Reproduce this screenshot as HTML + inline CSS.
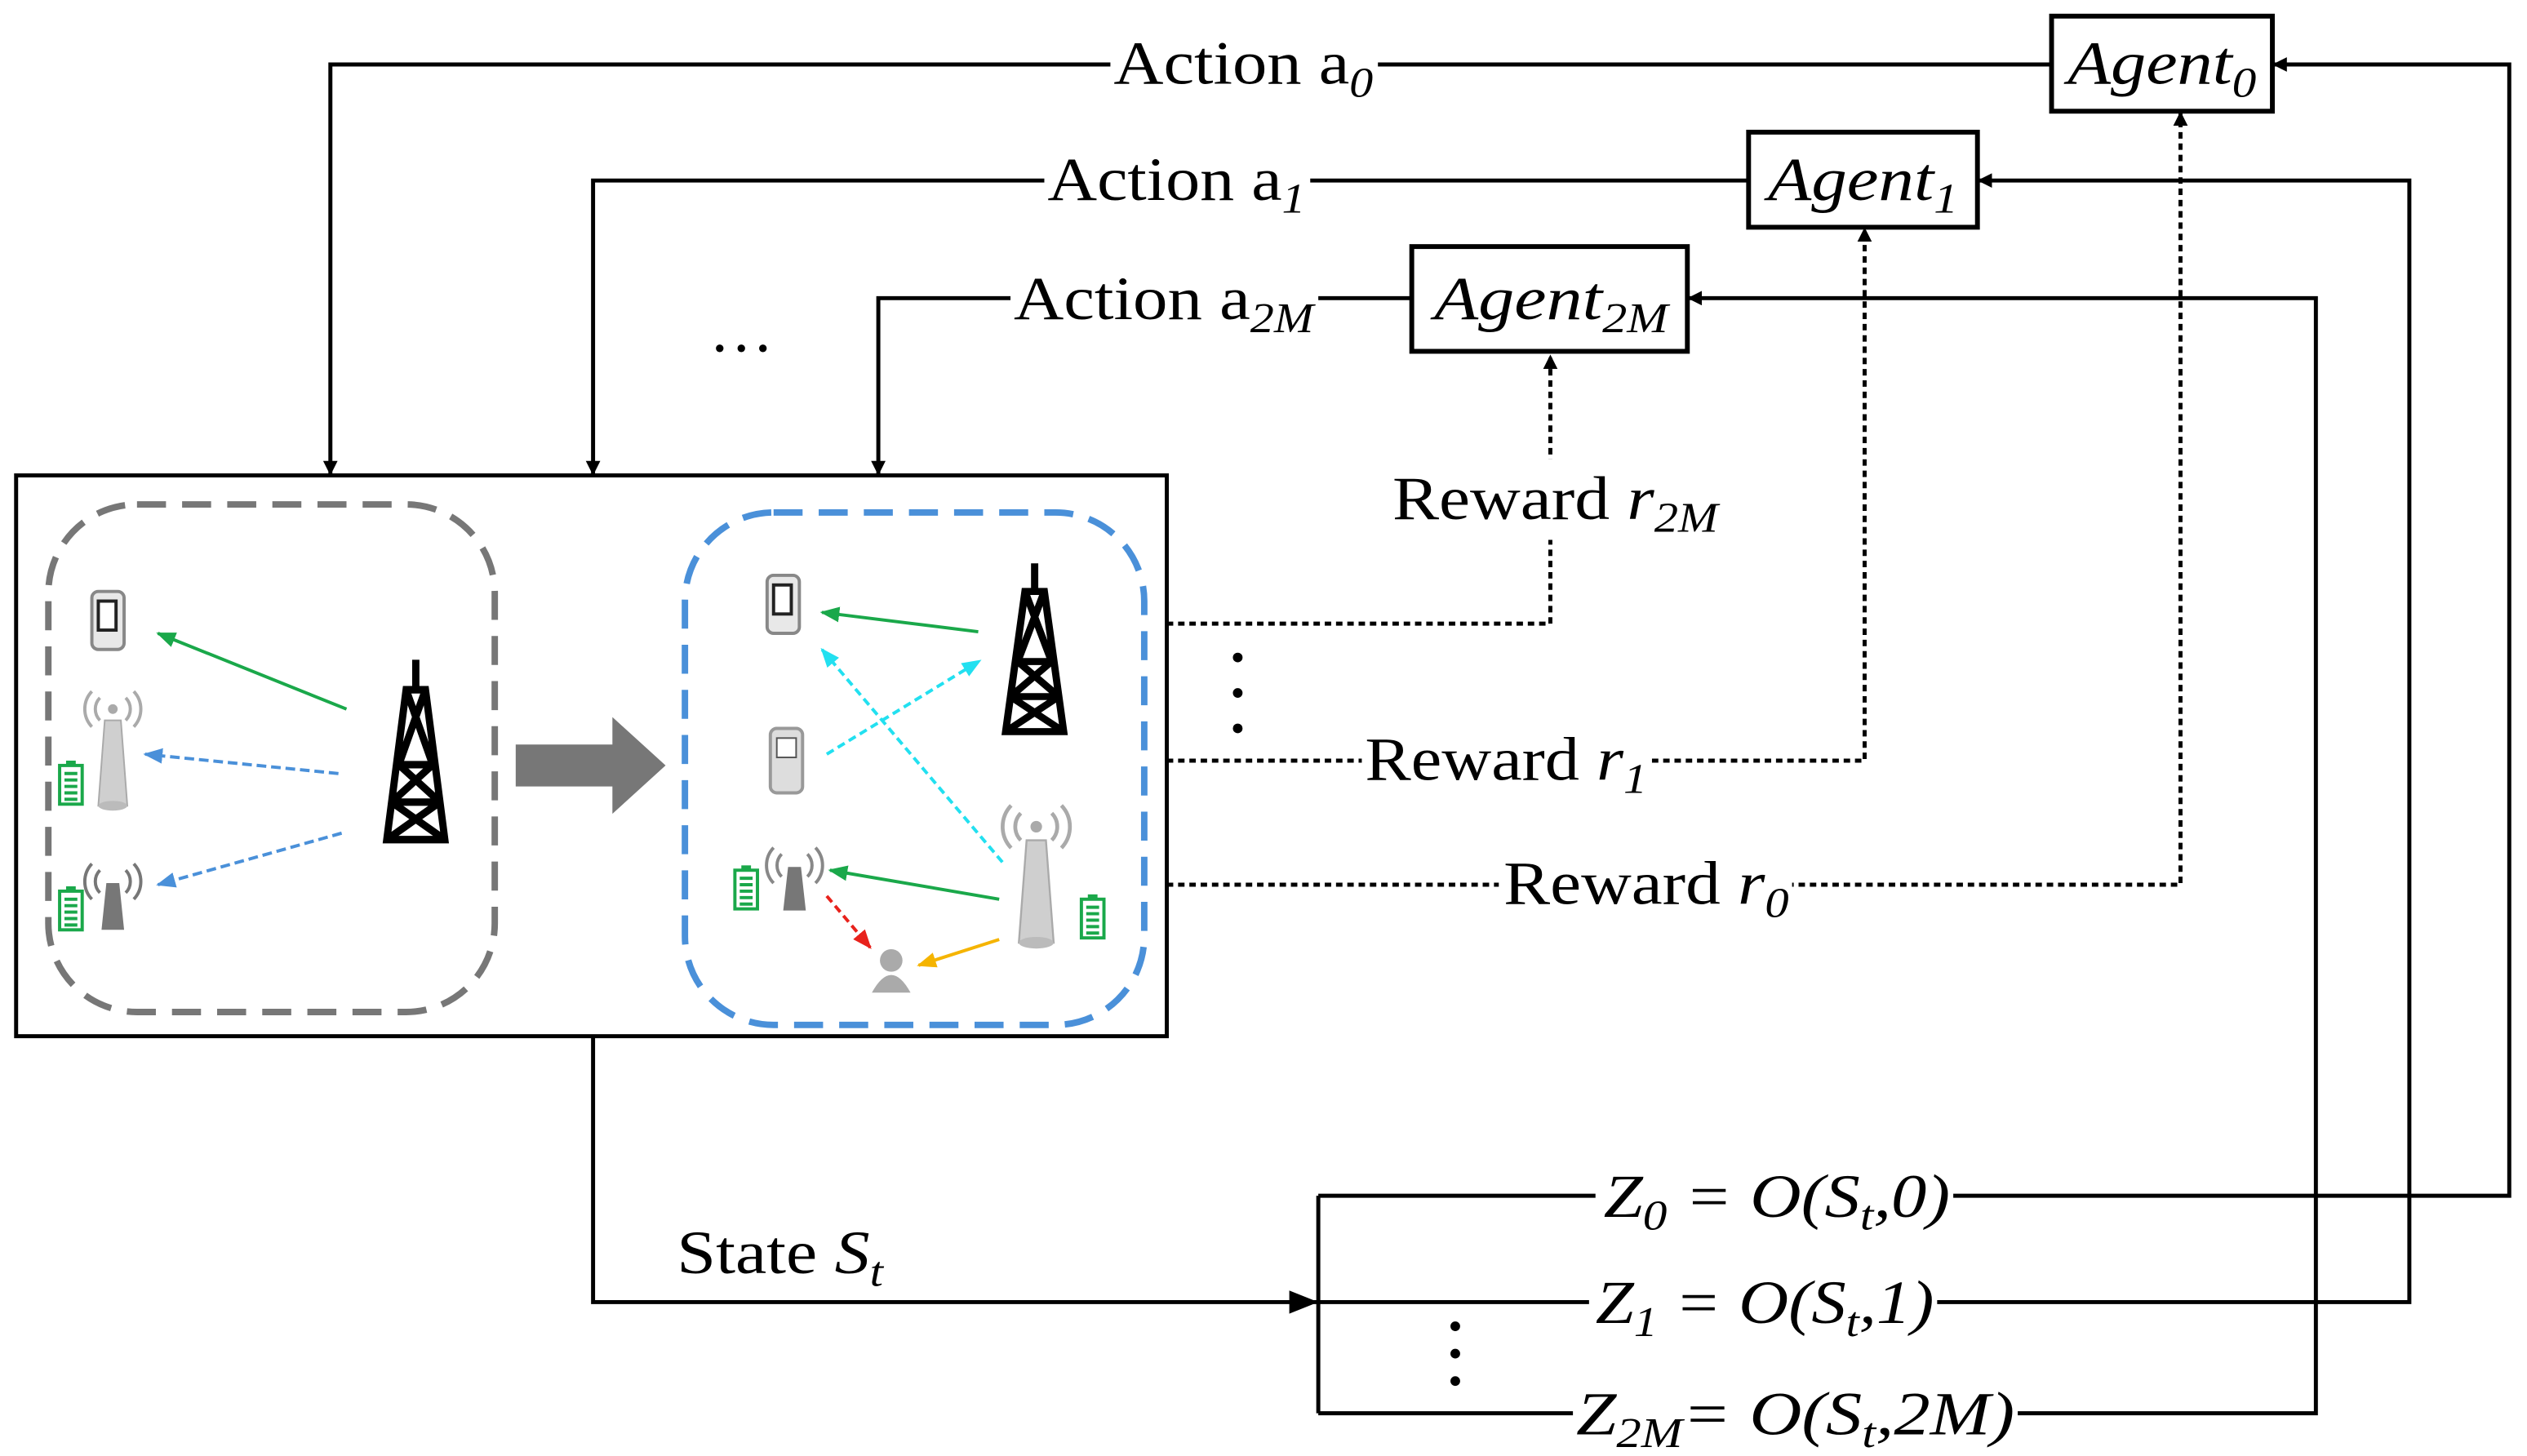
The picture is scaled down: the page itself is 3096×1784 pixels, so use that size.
<!DOCTYPE html>
<html><head><meta charset="utf-8"><style>
html,body{margin:0;padding:0;background:#fff}
svg{display:block}
text{font-family:"Liberation Serif",serif;fill:#000}
</style></head><body>
<svg width="3096" height="1784" viewBox="0 0 1568 903.5" xmlns="http://www.w3.org/2000/svg">
<defs>
<marker id="ah" viewBox="0 0 10 10" refX="10" refY="5" markerWidth="9" markerHeight="9" orient="auto-start-reverse" markerUnits="userSpaceOnUse"><path d="M0,0L10,5L0,10z" fill="#000"/></marker>
<marker id="ab" viewBox="0 0 10 10" refX="10" refY="5" markerWidth="18" markerHeight="18" orient="auto" markerUnits="userSpaceOnUse"><path d="M0,1L10,5L0,9z" fill="#000"/></marker>
<marker id="g" viewBox="0 0 10 10" refX="9" refY="5" markerWidth="12" markerHeight="12" orient="auto" markerUnits="userSpaceOnUse"><path d="M0,1L10,5L0,9z" fill="#1aa84a"/></marker>
<marker id="b" viewBox="0 0 10 10" refX="9" refY="5" markerWidth="12" markerHeight="12" orient="auto" markerUnits="userSpaceOnUse"><path d="M0,1L10,5L0,9z" fill="#4a90d9"/></marker>
<marker id="c" viewBox="0 0 10 10" refX="9" refY="5" markerWidth="12" markerHeight="12" orient="auto" markerUnits="userSpaceOnUse"><path d="M0,1L10,5L0,9z" fill="#22e0f0"/></marker>
<marker id="r" viewBox="0 0 10 10" refX="9" refY="5" markerWidth="12" markerHeight="12" orient="auto" markerUnits="userSpaceOnUse"><path d="M0,1L10,5L0,9z" fill="#e8221c"/></marker>
<marker id="o" viewBox="0 0 10 10" refX="9" refY="5" markerWidth="12" markerHeight="12" orient="auto" markerUnits="userSpaceOnUse"><path d="M0,1L10,5L0,9z" fill="#f5b400"/></marker>
<g id="tower">
<path d="M0,-52 L0,-40 M-4,-40 L4,-40 L12,20 L-12,20 Z M-7,-10 L7,-10 M-10,5 L10,5 M-4,-40 L7,-10 M4,-40 L-7,-10 M-7,-10 L10,5 M7,-10 L-10,5 M-10,5 L12,20 M10,5 L-12,20" stroke="#000" stroke-width="3" fill="none"/>
</g>
<g id="bs">
<path d="M-5,-28 L5,-28 L9,25 L-9,25 Z" fill="#cfcfcf" stroke="#aaa"/>
<ellipse cx="0" cy="25" rx="9" ry="3" fill="#bbb"/>
<path d="M-8,-42 a10,10 0 0 0 0,14 M8,-42 a10,10 0 0 1 0,14 M-13,-46 a16,16 0 0 0 0,22 M13,-46 a16,16 0 0 1 0,22" stroke="#aaa" stroke-width="2" fill="none"/>
<circle cx="0" cy="-35" r="3" fill="#aaa"/>
</g>
<g id="bat"><rect x="-7" y="-12" width="14" height="24" fill="none" stroke="#1aa84a" stroke-width="2"/><rect x="-3" y="-15" width="6" height="3" fill="#1aa84a"/><path d="M-4,-7h8M-4,-3h8M-4,1h8M-4,5h8M-4,9h8" stroke="#1aa84a" stroke-width="2"/></g>
<g id="phone"><rect x="-10" y="-18" width="20" height="36" rx="4" fill="#e8e8e8" stroke="#888" stroke-width="2"/><rect x="-6" y="-12" width="11" height="18" fill="#fff" stroke="#222" stroke-width="2"/></g>
</defs>

<g fill="#fff" stroke="#000" stroke-width="3">
<rect x="1273" y="10" width="137" height="59"/>
<rect x="1085" y="82" width="142" height="59"/>
<rect x="876" y="153" width="171" height="65"/>
</g>
<text x="1283" y="52" font-size="38" font-style="italic" textLength="117" lengthAdjust="spacingAndGlyphs">Agent<tspan font-size="26" dy="8">0</tspan></text>
<text x="1097" y="124" font-size="38" font-style="italic" textLength="118" lengthAdjust="spacingAndGlyphs">Agent<tspan font-size="26" dy="8">1</tspan></text>
<text x="890" y="198" font-size="38" font-style="italic" textLength="145" lengthAdjust="spacingAndGlyphs">Agent<tspan font-size="26" dy="8">2M</tspan></text>

<g stroke="#000" stroke-width="2.5" fill="none">
<path d="M1273,40 H205 V295" marker-end="url(#ah)"/>
<path d="M1085,112 H368 V295" marker-end="url(#ah)"/>
<path d="M876,185 H545 V295" marker-end="url(#ah)"/>
</g>
<rect x="689" y="18" width="166" height="42" fill="#fff"/>
<text x="691" y="52" font-size="38" textLength="161" lengthAdjust="spacingAndGlyphs">Action a<tspan font-size="26" dy="8" font-style="italic">0</tspan></text>
<rect x="648" y="90" width="165" height="42" fill="#fff"/>
<text x="650" y="124" font-size="38" textLength="160" lengthAdjust="spacingAndGlyphs">Action a<tspan font-size="26" dy="8" font-style="italic">1</tspan></text>
<rect x="627" y="163" width="191" height="42" fill="#fff"/>
<text x="629" y="198" font-size="38" textLength="186" lengthAdjust="spacingAndGlyphs">Action a<tspan font-size="26" dy="8" font-style="italic">2M</tspan></text>
<text x="440" y="218" font-size="40">…</text>

<g stroke="#000" stroke-width="2.5" fill="none" stroke-dasharray="4,3">
<path d="M724,387 H962 V220" marker-end="url(#ah)"/>
<path d="M724,472 H1157 V141" marker-end="url(#ah)"/>
<path d="M724,549 H1353 V69" marker-end="url(#ah)"/>
</g>
<rect x="860" y="285" width="210" height="50" fill="#fff"/>
<text x="864" y="322" font-size="38" textLength="202" lengthAdjust="spacingAndGlyphs">Reward <tspan font-style="italic">r</tspan><tspan font-size="26" dy="8" font-style="italic">2M</tspan></text>
<rect x="845" y="450" width="180" height="44" fill="#fff"/>
<text x="847" y="484" font-size="38" textLength="175" lengthAdjust="spacingAndGlyphs">Reward <tspan font-style="italic">r</tspan><tspan font-size="26" dy="8" font-style="italic">1</tspan></text>
<rect x="930" y="527" width="182" height="44" fill="#fff"/>
<text x="933" y="561" font-size="38" textLength="177" lengthAdjust="spacingAndGlyphs">Reward <tspan font-style="italic">r</tspan><tspan font-size="26" dy="8" font-style="italic">0</tspan></text>
<g fill="#000"><circle cx="768" cy="408" r="3"/><circle cx="768" cy="430" r="3"/><circle cx="768" cy="452" r="3"/>
<circle cx="903" cy="823" r="3"/><circle cx="903" cy="840" r="3"/><circle cx="903" cy="857" r="3"/></g>

<g stroke="#000" stroke-width="2.5" fill="none">
<path d="M368,643 V808 H818" marker-end="url(#ab)"/>
<path d="M818,742 V877"/>
<path d="M818,742 H1557 V40 H1410" marker-end="url(#ah)"/>
<path d="M818,808 H1495 V112 H1227" marker-end="url(#ah)"/>
<path d="M818,877 H1437 V185 H1047" marker-end="url(#ah)"/>
</g>
<text x="420" y="790" font-size="38" textLength="128" lengthAdjust="spacingAndGlyphs">State <tspan font-style="italic">S</tspan><tspan font-size="26" dy="8" font-style="italic">t</tspan></text>
<rect x="990" y="722" width="222" height="42" fill="#fff"/>
<text x="995" y="755" font-size="38" font-style="italic" textLength="215" lengthAdjust="spacingAndGlyphs">Z<tspan font-size="26" dy="8">0</tspan><tspan dy="-8"> = O(S</tspan><tspan font-size="26" dy="8">t</tspan><tspan dy="-8">,0)</tspan></text>
<rect x="986" y="788" width="216" height="42" fill="#fff"/>
<text x="990" y="821" font-size="38" font-style="italic" textLength="210" lengthAdjust="spacingAndGlyphs">Z<tspan font-size="26" dy="8">1</tspan><tspan dy="-8"> = O(S</tspan><tspan font-size="26" dy="8">t</tspan><tspan dy="-8">,1)</tspan></text>
<rect x="976" y="857" width="276" height="42" fill="#fff"/>
<text x="978" y="890" font-size="38" font-style="italic" textLength="272" lengthAdjust="spacingAndGlyphs">Z<tspan font-size="26" dy="8">2M</tspan><tspan dy="-8">= O(S</tspan><tspan font-size="26" dy="8">t</tspan><tspan dy="-8">,2M)</tspan></text>

<rect x="10" y="295" width="714" height="348" fill="#fff" stroke="#000" stroke-width="2.5"/>
<rect x="30" y="313" width="277" height="315" rx="55" fill="none" stroke="#777" stroke-width="4" stroke-dasharray="18,10"/>
<rect x="425" y="318" width="285" height="318" rx="55" fill="none" stroke="#4a90d9" stroke-width="4" stroke-dasharray="18,10"/>
<path d="M320,462 H380 V445 L413,475 L380,505 V488 H320 Z" fill="#777"/>

<g transform="translate(258,490) scale(1.5,1.55)"><use href="#tower"/></g>
<use href="#phone" x="67" y="385"/>
<use href="#bs" x="70" y="475"/>
<use href="#bat" x="44" y="487"/>
<use href="#bat" x="44" y="565"/>
<g transform="translate(70,560)"><path d="M-4,-12 L4,-12 L7,17 L-7,17 Z" fill="#777"/><path d="M-8,-20 a10,10 0 0 0 0,14 M8,-20 a10,10 0 0 1 0,14 M-13,-24 a16,16 0 0 0 0,22 M13,-24 a16,16 0 0 1 0,22" stroke="#777" stroke-width="2" fill="none"/></g>
<line x1="215" y1="440" x2="98" y2="393" stroke="#1aa84a" stroke-width="2" marker-end="url(#g)"/>
<line x1="210" y1="480" x2="90" y2="468" stroke="#4a90d9" stroke-width="2" stroke-dasharray="6,3" marker-end="url(#b)"/>
<line x1="212" y1="517" x2="98" y2="549" stroke="#4a90d9" stroke-width="2" stroke-dasharray="6,3" marker-end="url(#b)"/>

<g transform="translate(642,425) scale(1.5,1.45)"><use href="#tower"/></g>
<use href="#phone" x="486" y="375"/>
<g transform="translate(488,470)"><rect x="-10" y="-18" width="20" height="40" rx="4" fill="#ddd" stroke="#999" stroke-width="2"/><rect x="-6" y="-12" width="12" height="12" fill="#fff" stroke="#555"/></g>
<g transform="translate(643,555) scale(1.2)"><use href="#bs"/></g>
<use href="#bat" x="678" y="570"/>
<use href="#bat" x="463" y="552"/>
<g transform="translate(493,550)"><path d="M-4,-12 L4,-12 L7,15 L-7,15 Z" fill="#777"/><path d="M-8,-20 a10,10 0 0 0 0,14 M8,-20 a10,10 0 0 1 0,14 M-13,-24 a16,16 0 0 0 0,22 M13,-24 a16,16 0 0 1 0,22" stroke="#888" stroke-width="2" fill="none"/></g>
<g transform="translate(553,602)"><circle cx="0" cy="-6" r="7" fill="#aaa"/><path d="M-12,14 Q0,-8 12,14 Z" fill="#aaa"/></g>
<line x1="607" y1="392" x2="510" y2="380" stroke="#1aa84a" stroke-width="2" marker-end="url(#g)"/>
<line x1="513" y1="468" x2="608" y2="410" stroke="#22e0f0" stroke-width="2" stroke-dasharray="5,3" marker-end="url(#c)"/>
<line x1="622" y1="535" x2="510" y2="403" stroke="#22e0f0" stroke-width="2" stroke-dasharray="5,3" marker-end="url(#c)"/>
<line x1="620" y1="558" x2="515" y2="540" stroke="#1aa84a" stroke-width="2" marker-end="url(#g)"/>
<line x1="513" y1="556" x2="540" y2="588" stroke="#e8221c" stroke-width="2" stroke-dasharray="5,3" marker-end="url(#r)"/>
<line x1="620" y1="583" x2="570" y2="599" stroke="#f5b400" stroke-width="2" marker-end="url(#o)"/>
</svg>
</body></html>
